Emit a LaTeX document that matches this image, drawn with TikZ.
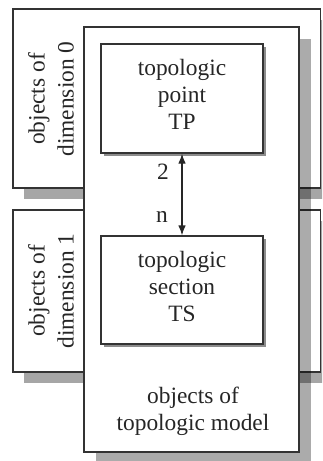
\documentclass[tikz,border=0pt]{standalone}
\usepackage{fontspec}
\setmainfont{Liberation Serif}
\usetikzlibrary{arrows.meta,shadows}
\definecolor{edgegray}{HTML}{333333}
\definecolor{inkgray}{HTML}{262626}
\begin{document}
\begin{tikzpicture}[x=1pt,y=-1pt,
  box/.style={draw=edgegray,line width=1.2pt,fill=white,rectangle,inner sep=0pt},
  bigshadow/.style={drop shadow={shadow xshift=11pt,shadow yshift=-11pt,fill=black,opacity=0.35}},
  mainshadow/.style={drop shadow={shadow xshift=12pt,shadow yshift=-12pt,fill=black,opacity=0.33}},
  smallshadow/.style={drop shadow={shadow xshift=3pt,shadow yshift=-3pt,fill=black,opacity=0.45}},
  lbl/.style={text=inkgray,align=center,inner sep=0pt,font=\fontsize{23.4}{27}\selectfont},
  rlbl/.style={lbl,rotate=90,font=\fontsize{23.4}{29}\selectfont},
  mult/.style={text=inkgray,inner sep=0pt,font=\fontsize{23.4}{27}\selectfont},
  link/.style={draw=inkgray,line width=1.2pt,{Latex[length=10pt,width=7.5pt]}-{Latex[length=10pt,width=7.5pt]}}
]
\useasboundingbox (0,0) rectangle (322,461);
\begin{scope}
\clip (0,0) rectangle (322,461);
% groups by dimension
\node[box,bigshadow,minimum width=307.5pt,minimum height=179pt] (dim0) at (166.75,98.5) {};
\node[box,bigshadow,minimum width=307.5pt,minimum height=162pt] (dim1) at (166.75,291) {};
% topologic model container
\node[box,mainshadow,minimum width=215pt,minimum height=425pt] (model) at (191.5,239.5) {};
\end{scope}
% topologic point and section
\node[box,smallshadow,minimum width=162pt,minimum height=109pt] (tp) at (182,98.5) {};
\node[box,smallshadow,minimum width=162pt,minimum height=108pt] (ts) at (182,290) {};
% texts
\node[lbl] (tptext) at (182,94) {topologic\\point\\TP};
\node[lbl] (tstext) at (182,286) {topologic\\section\\TS};
\node[lbl] (modeltext) at (193,411) {objects of\\topologic model};
\node[rlbl] (dim0text) at (51,99) {objects of\\dimension 0};
\node[rlbl] (dim1text) at (51,291) {objects of\\dimension 1};
% relation between point and section
\draw[link] (tp.south) -- (ts.north);
\node[mult] (multtop) at (163,172) {2};
\node[mult] (multbot) at (162,217) {n};
\end{tikzpicture}
\end{document}
